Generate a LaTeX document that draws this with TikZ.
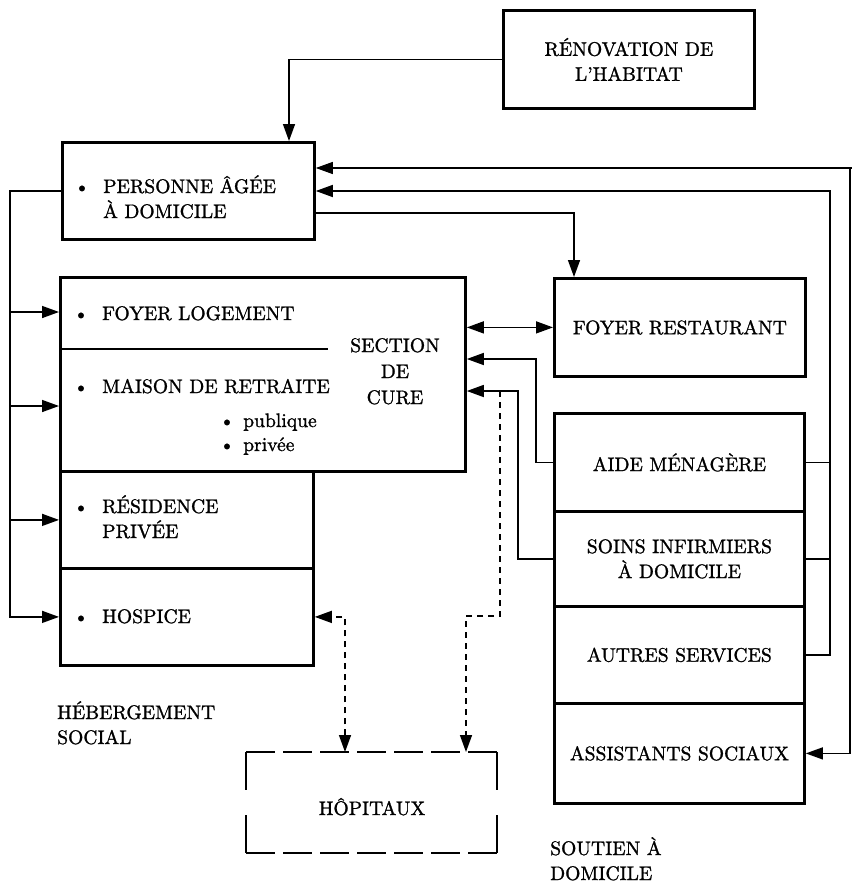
\documentclass[tikz,border=0pt]{standalone}
\usepackage{fontspec}
\setmainfont{lmroman10-regular.otf}[RawFeature={embolden=1.2}]
\usetikzlibrary{arrows.meta,calc}
\begin{document}
\begin{tikzpicture}[x=1pt,y=-1pt,
  every node/.style={font=\fontsize{19.6}{25}\selectfont, inner sep=0pt},
  box/.style={draw, line width=2.8pt, anchor=north west, align=center},
  conn/.style={line width=1.5pt},
  thinconn/.style={line width=1.2pt},
  tip/.style={-{Triangle[length=17pt,width=12pt]}},
  tips/.style={{Triangle[length=17pt,width=12pt]}-{Triangle[length=17pt,width=12pt]}},
  dconn/.style={conn, dash pattern=on 6pt off 5pt},
  hedge/.style={line width=2.8pt, dash pattern=on 29pt off 8pt},
  vedge/.style={line width=2.8pt, dash pattern=on 38pt off 25pt},
  txt/.style={anchor=base west},
  ctxt/.style={anchor=base},
  bul/.style={anchor=base}]
\useasboundingbox (0,0) rectangle (852,883);

% ---- boxes ----
\node[box, minimum width=251pt, minimum height=98pt] (renov) at (502,9) {RÉNOVATION DE\\L'HABITAT};
\node[box, minimum width=252pt, minimum height=97pt] (pers) at (61,141) {};
\node[box, minimum width=405pt, minimum height=194pt] (heberg) at (59,276) {};
\node[box, minimum width=253pt, minimum height=97pt] (resid) at (59,470) {};
\node[box, minimum width=253pt, minimum height=97pt] (hosp) at (59,567) {};
\node[box, minimum width=251pt, minimum height=98pt] (foyerR) at (553,277) {FOYER RESTAURANT};
\node[box, minimum width=250pt, minimum height=98pt] (aide) at (553,412) {AIDE MÉNAGÈRE};
\node[box, minimum width=250pt, minimum height=95pt] (soins) at (553,510) {SOINS INFIRMIERS\\À DOMICILE};
\node[box, minimum width=250pt, minimum height=97pt] (autres) at (553,605) {AUTRES SERVICES};
\node[box, minimum width=250pt, minimum height=100pt] (assist) at (553,702) {ASSISTANTS SOCIAUX};
\node[box, draw=none, outer sep=0pt, minimum width=251pt, minimum height=101pt] (hopit) at (246,752) {};

% dashed outline of the hospital box
\draw[hedge] (hopit.north west) -- (hopit.north east);
\draw[hedge] (hopit.south west) -- (hopit.south east);
\draw[vedge] (hopit.north west) -- (hopit.south west);
\draw[vedge] (hopit.north east) -- (hopit.south east);

% divider between foyer logement and maison de retraite
\draw[line width=2.8pt] (59,349) -- (328,349);

% ---- texts ----
\node[bul] (b1) at (82,193) {\textbullet};
\node[txt] (t1) at (103,193) {PERSONNE ÂGÉE};
\node[txt] (t1b) at (103,218) {À DOMICILE};
\node[bul] (b2) at (81,320) {\textbullet};
\node[txt] (t2) at (102,320) {FOYER LOGEMENT};
\node[bul] (b3) at (81,393) {\textbullet};
\node[txt] (t3) at (102,393) {MAISON DE RETRAITE};
\node[bul] (b4) at (227,427) {\textbullet};
\node[txt] (t4) at (243,427) {publique};
\node[bul] (b5) at (227,451) {\textbullet};
\node[txt] (t5) at (243,451) {privée};
\node[ctxt] (c1) at (395,352) {SECTION};
\node[ctxt] (c2) at (395,378) {DE};
\node[ctxt] (c3) at (395,404) {CURE};
\node[bul] (b6) at (81,513) {\textbullet};
\node[txt] (t6) at (102,513) {RÉSIDENCE};
\node[txt] (t6b) at (102,538) {PRIVÉE};
\node[bul] (b7) at (81,623) {\textbullet};
\node[txt] (t7) at (102,623) {HOSPICE};
\node[ctxt] (hopt) at (372,815) {HÔPITAUX};
\node[txt] (g1) at (57,719) {HÉBERGEMENT};
\node[txt] (g1b) at (57,744) {SOCIAL};
\node[txt] (g2) at (550,855) {SOUTIEN À};
\node[txt] (g2b) at (550,880) {DOMICILE};

% ---- rails and levels for connectors ----
\coordinate (xL) at (10,0);
\coordinate (xA) at (289,0);
\coordinate (xF) at (574,0);
\coordinate (xR) at (850,0);
\coordinate (xE) at (852,0);
\coordinate (xB) at (830,0);
\coordinate (xM) at (536,0);
\coordinate (xS) at (518,0);
\coordinate (xD) at (500,0);
\coordinate (xH) at (466,0);
\coordinate (xP) at (345,0);
\coordinate (yT) at (0,168);
\coordinate (yU) at (0,191);
\coordinate (yV) at (0,213);
\coordinate (yFL) at (0,312);
\coordinate (yMR) at (0,406);
\coordinate (yC2) at (0,359);
\coordinate (yC3) at (0,391);
\coordinate (yHD) at (0,616);

% ---- connectors ----
\draw[conn,tip] (renov.west) -| (pers.north -| xA);
\draw[thinconn,tips] (pers.east |- yT) -- (xR |- yT) -- (xR |- assist.east) -- (assist.east);
\draw[thinconn] (xR |- yT) -- (xE |- yT);
\draw[conn,tip] (autres.east) -- (xB |- autres.east) -- (xB |- yU) -- (pers.east |- yU);
\draw[conn] (aide.east) -- (xB |- aide.east);
\draw[conn] (soins.east) -- (xB |- soins.east);
\draw[conn,tip] (pers.east |- yV) -| (foyerR.north -| xF);

\draw[conn,tip] (pers.west) -| (xL |- hosp.west) -- (hosp.west);
\draw[conn,tip] (xL |- yFL) -- (heberg.west |- yFL);
\draw[conn,tip] (xL |- yMR) -- (heberg.west |- yMR);
\draw[conn,tip] (xL |- resid.west) -- (resid.west);

\draw[conn,tips] (heberg.east |- foyerR.west) -- (foyerR.west);
\draw[conn,tip] (aide.west) -- (xM |- aide.west) -- (xM |- yC2) -- (heberg.east |- yC2);
\draw[conn,tip] (soins.west) -- (xS |- soins.west) -- (xS |- yC3) -- (heberg.east |- yC3);

\draw[dconn,tip] (xD |- yC3) -- (xD |- yHD) -- (xH |- yHD) -- (hopit.north -| xH);
\draw[dconn,tips] (hopit.north -| xP) -- (xP |- hosp.east) -- (hosp.east);
\end{tikzpicture}
\end{document}
